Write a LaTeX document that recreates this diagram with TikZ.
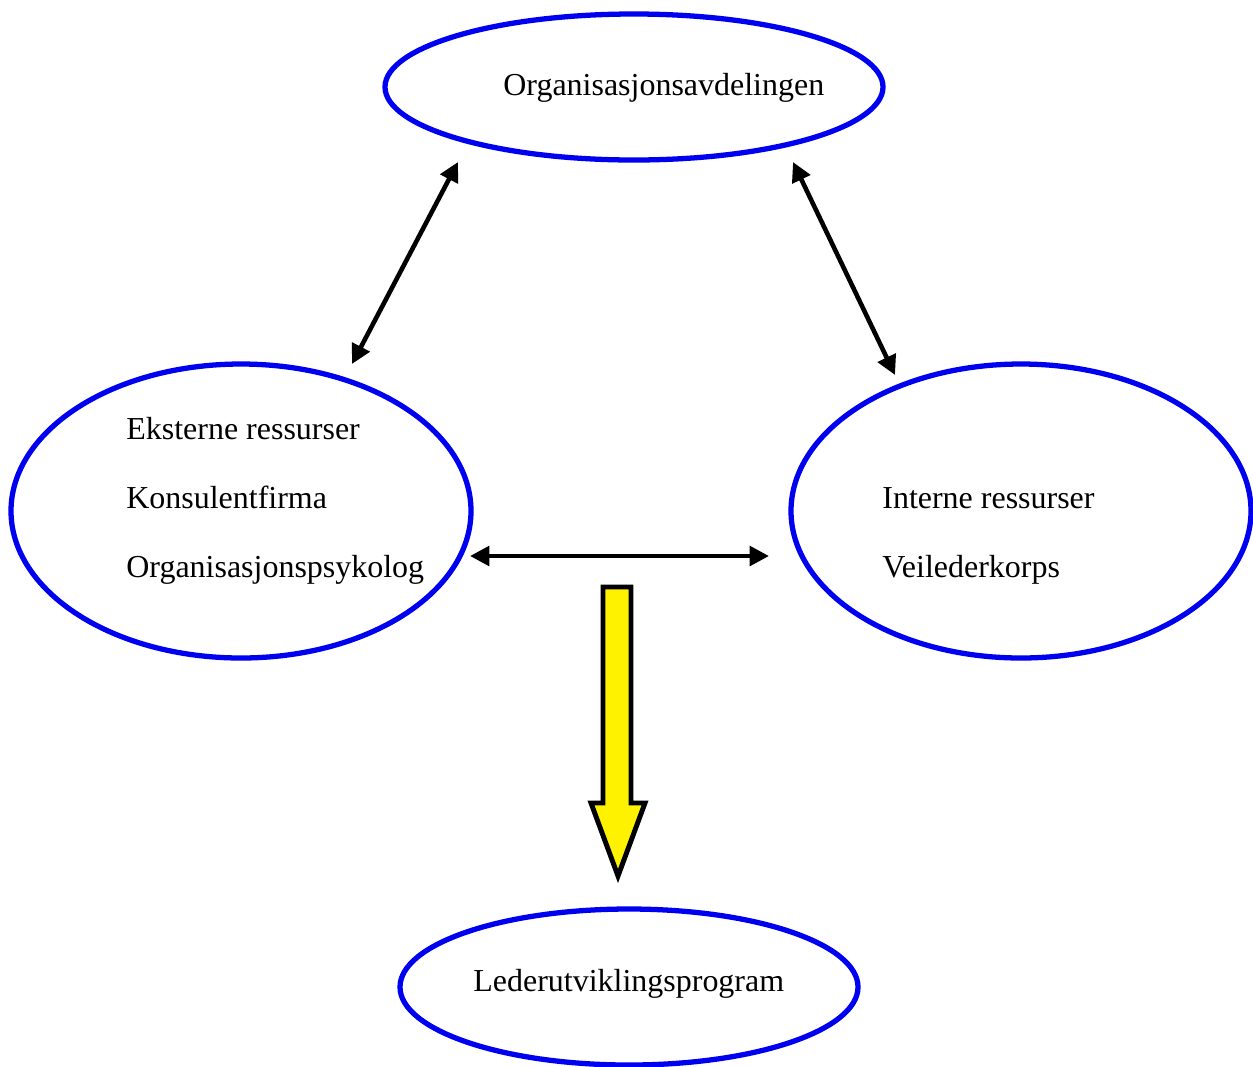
\documentclass[tikz,border=0pt]{standalone}
\usepackage{fontspec}
\setmainfont{Liberation Serif}
\usetikzlibrary{arrows.meta}
\definecolor{ovalblue}{RGB}{0,0,240}
\begin{document}
\begin{tikzpicture}[x=0.02cm,y=-0.02cm,
  oval/.style={draw=ovalblue,line width=3pt},
  lbl/.style={anchor=base west,inner sep=0pt,font=\fontsize{18.2}{22}\selectfont},
  link/.style={line width=2.6pt,{Triangle[length=11pt,width=11pt]}-{Triangle[length=11pt,width=11pt]}},
  bigarrow/.style={draw=black,fill=yellow,line width=2.8pt,miter limit=10}]
\useasboundingbox (0,0) rectangle (1253,1066);
% ellipses
\draw[oval] (634,87) ellipse [x radius=249,y radius=73];
\draw[oval] (241,511) ellipse [x radius=230,y radius=147];
\draw[oval] (1021,511) ellipse [x radius=230,y radius=147];
\draw[oval] (629,987) ellipse [x radius=229,y radius=78];
% labels
\node[lbl] (top) at (503,95) {Organisasjonsavdelingen};
\node[lbl] (l1) at (126,439) {Eksterne ressurser};
\node[lbl] (l2) at (126,508) {Konsulentfirma};
\node[lbl] (l3) at (126,577) {Organisasjonspsykolog};
\node[lbl] (r1) at (882,508) {Interne ressurser};
\node[lbl] (r2) at (882,577) {Veilederkorps};
\node[lbl] (bot) at (473,991) {Lederutviklingsprogram};
% arrow end points
\coordinate (a1) at (352,364);
\coordinate (a2) at (458,162);
\coordinate (b1) at (793,162);
\coordinate (b2) at (895,375);
\coordinate (c1) at (470,556);
\coordinate (c2) at (769,556);
\draw[link] (a1) -- (a2);
\draw[link] (b1) -- (b2);
\draw[link] (c1) -- (c2);
% yellow arrow
\draw[bigarrow] (603,587) -- (631,587) -- (631,803) -- (645,803) -- (618,876) -- (591,803) -- (603,803) -- cycle;
\end{tikzpicture}
\end{document}
